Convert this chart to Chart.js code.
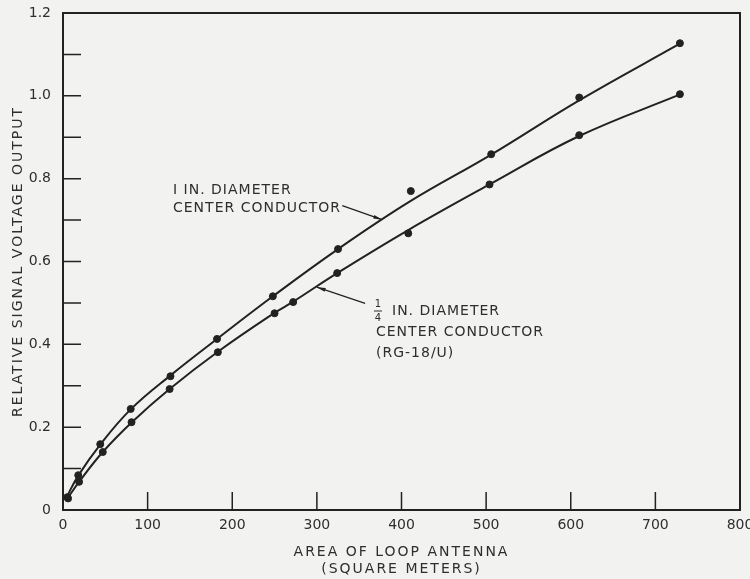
<!DOCTYPE html>
<html>
<head>
<meta charset="utf-8">
<script src="https://cdn.jsdelivr.net/npm/chart.js@4.4.1/dist/chart.umd.min.js"></script>
<style>
  html, body { margin: 0; padding: 0; background: #f2f2f1; }
  #wrap { width: 750px; height: 579px; }
</style>
</head>
<body>
<div id="wrap"><canvas id="loop-chart" width="750" height="579"></canvas></div>
<script>
// measured points, 1 in. diameter center conductor
const oneInX = [5, 18, 44, 80, 127, 182, 248, 325, 411, 506, 610, 729];
const oneInY = [0.031, 0.084, 0.159, 0.244, 0.323, 0.413, 0.516, 0.630, 0.770, 0.859, 0.996, 1.127];
// measured points, 1/4 in. diameter (RG-18/U)
const quarterX = [6, 19, 47, 81, 126, 183, 250, 272, 324, 408, 504, 610, 729];
const quarterY = [0.028, 0.068, 0.140, 0.212, 0.292, 0.381, 0.475, 0.502, 0.572, 0.668, 0.786, 0.905, 1.004];

// faired curves as drawn on the figure
const oneInCurveX = [4, 18, 44, 80, 127, 182, 248, 325, 410, 506, 610, 730];
const oneInCurveY = [0.030, 0.083, 0.158, 0.243, 0.325, 0.413, 0.516, 0.630, 0.745, 0.858, 0.989, 1.127];
const quarterCurveX = [4, 19, 47, 82, 126, 183, 250, 272, 324, 408, 504, 610, 730];
const quarterCurveY = [0.024, 0.068, 0.140, 0.213, 0.292, 0.382, 0.476, 0.503, 0.572, 0.676, 0.786, 0.903, 1.004];

const xTicks = [0, 100, 200, 300, 400, 500, 600, 700, 800];
const yLabels = ['0', '0.2', '0.4', '0.6', '0.8', '1.0', '1.2'];

const ink = '#222222';
const textInk = '#2e2e2e';
const fontFam = '"DejaVu Sans", "Liberation Sans", sans-serif';

const pts = (xs, ys) => xs.map((x, i) => ({x: x, y: ys[i]}));

// lettering on the original axis titles is widely spaced
function spaceTitle(s, sp) {
  if (s._spaced) return;
  const base = s.drawTitle;
  s.drawTitle = function () {
    this.ctx.save();
    this.ctx.letterSpacing = sp;
    base.call(this);
    this.ctx.restore();
  };
  s._spaced = true;
}

const figureDecor = {
  id: 'figureDecor',
  afterDraw(chart) {
    const {ctx, chartArea: a, scales: {x, y}} = chart;
    ctx.save();
    ctx.strokeStyle = ink;
    ctx.lineWidth = 2;
    ctx.strokeRect(a.left, a.top, a.right - a.left, a.bottom - a.top);

    // inside tick marks
    ctx.lineWidth = 1.5;
    ctx.beginPath();
    xTicks.slice(1, -1).forEach(v => {
      const px = x.getPixelForValue(v);
      ctx.moveTo(px, a.bottom);
      ctx.lineTo(px, a.bottom - 18);
    });
    for (let k = 1; k < 12; k++) {
      const py = y.getPixelForValue(k / 10);
      ctx.moveTo(a.left, py);
      ctx.lineTo(a.left + 18, py);
    }
    ctx.stroke();

    // annotations
    ctx.fillStyle = textInk;
    ctx.font = '14px ' + fontFam;
    ctx.letterSpacing = '1px';
    ctx.textBaseline = 'middle';
    ctx.textAlign = 'left';
    ctx.fillText('I IN. DIAMETER', 173, 190);
    ctx.fillText('CENTER CONDUCTOR', 173, 208);

    ctx.fillText('IN. DIAMETER', 392, 311);
    ctx.fillText('CENTER CONDUCTOR', 376, 332);
    ctx.fillText('(RG-18/U)', 376, 353);
    ctx.font = '10px ' + fontFam;
    ctx.letterSpacing = '0px';
    ctx.textAlign = 'center';
    ctx.fillText('1', 378, 304);
    ctx.fillText('4', 378, 318);
    ctx.beginPath();
    ctx.lineWidth = 1;
    ctx.moveTo(374, 311);
    ctx.lineTo(382, 311);
    ctx.strokeStyle = textInk;
    ctx.stroke();

    const arrow = (fx, fy, tx, ty) => {
      const x0 = x.getPixelForValue(fx), y0 = y.getPixelForValue(fy);
      const x1 = x.getPixelForValue(tx), y1 = y.getPixelForValue(ty);
      const ang = Math.atan2(y1 - y0, x1 - x0);
      ctx.strokeStyle = ink;
      ctx.fillStyle = ink;
      ctx.lineWidth = 1.2;
      ctx.beginPath();
      ctx.moveTo(x0, y0);
      ctx.lineTo(x1, y1);
      ctx.stroke();
      ctx.beginPath();
      ctx.moveTo(x1, y1);
      ctx.lineTo(x1 - 9 * Math.cos(ang - 0.22), y1 - 9 * Math.sin(ang - 0.22));
      ctx.lineTo(x1 - 9 * Math.cos(ang + 0.22), y1 - 9 * Math.sin(ang + 0.22));
      ctx.closePath();
      ctx.fill();
    };
    arrow(330, 0.735, 377, 0.701);
    arrow(357, 0.499, 300, 0.538);

    ctx.restore();
  }
};

new Chart(document.getElementById('loop-chart'), {
  type: 'scatter',
  data: {
    datasets: [
      {
        label: 'curve 1 in.',
        type: 'line',
        data: pts(oneInCurveX, oneInCurveY),
        borderColor: ink,
        borderWidth: 2,
        pointRadius: 0,
        tension: 0.4,
        fill: false
      },
      {
        label: 'curve 1/4 in.',
        type: 'line',
        data: pts(quarterCurveX, quarterCurveY),
        borderColor: ink,
        borderWidth: 2,
        pointRadius: 0,
        tension: 0.4,
        fill: false
      },
      {
        label: '1 in. points',
        data: pts(oneInX, oneInY),
        backgroundColor: ink,
        borderColor: ink,
        pointRadius: 3.5
      },
      {
        label: '1/4 in. points',
        data: pts(quarterX, quarterY),
        backgroundColor: ink,
        borderColor: ink,
        pointRadius: 3.5
      }
    ]
  },
  options: {
    responsive: false,
    animation: false,
    layout: { padding: { top: 13, right: 10, left: 0, bottom: 0 } },
    plugins: {
      legend: { display: false },
      tooltip: { enabled: false }
    },
    scales: {
      x: {
        type: 'linear',
        min: 0,
        max: 800,
        grid: { display: false, drawTicks: false },
        border: { display: false },
        afterBuildTicks: s => { s.ticks = xTicks.map(v => ({value: v})); },
        afterFit: s => {
          s.height = 69; s.paddingLeft = 0; s.paddingRight = 0;
          spaceTitle(s, '2px');
        },
        ticks: {
          color: textInk,
          font: { family: fontFam, size: 14 },
          padding: 7,
          maxRotation: 0
        },
        title: {
          display: true,
          text: ['AREA OF LOOP ANTENNA', '(SQUARE METERS)'],
          color: textInk,
          font: { family: fontFam, size: 14, lineHeight: 1.2 },
          padding: { top: 0, bottom: 1 }
        }
      },
      y: {
        type: 'linear',
        min: 0,
        max: 1.2,
        grid: { display: false, drawTicks: false },
        border: { display: false },
        afterBuildTicks: s => { s.ticks = yLabels.map((t, i) => ({value: i * 0.2})); },
        afterFit: s => {
          s.width = 63; s.paddingTop = 0; s.paddingBottom = 0;
          spaceTitle(s, '2px');
        },
        ticks: {
          color: textInk,
          font: { family: fontFam, size: 14 },
          padding: 12,
          callback: (v, i) => yLabels[i]
        },
        title: {
          display: true,
          text: 'RELATIVE SIGNAL VOLTAGE OUTPUT',
          color: textInk,
          font: { family: fontFam, size: 14 },
          padding: { top: 10, bottom: 0 }
        }
      }
    }
  },
  plugins: [figureDecor]
});
</script>
</body>
</html>
